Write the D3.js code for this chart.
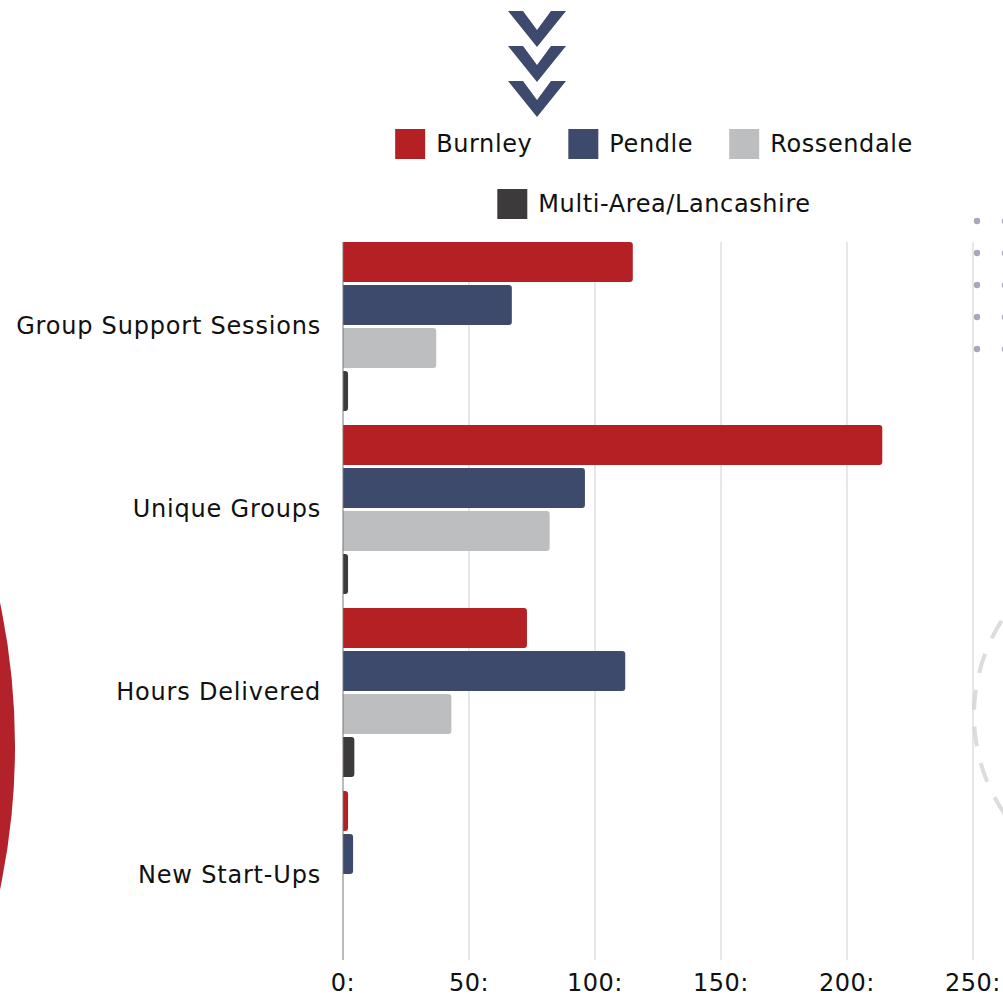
<!DOCTYPE html>
<html>
<head>
<meta charset="utf-8">
<script src="https://cdn.jsdelivr.net/npm/d3@7"></script>
<style>
  html, body { margin: 0; padding: 0; background: #fff; }
  svg { display: block; font-family: "DejaVu Sans", Verdana, sans-serif; }
</style>
</head>
<body>
<svg id="chart" width="1003" height="997"></svg>
<script>
// Activity measures by district
const categories = ["Group Support Sessions", "Unique Groups", "Hours Delivered", "New Start-Ups"];
const seriesNames = ["Burnley", "Pendle", "Rossendale", "Multi-Area/Lancashire"];
const seriesColors = ["#b52025", "#3d4a6c", "#bdbec0", "#3c3a3b"];
const burnley    = [115, 214, 73, 2];
const pendle     = [67, 96, 112, 4];
const rossendale = [37, 82, 43, 0];
const multiArea  = [2, 2, 4.5, 0];
const tickValues = [0, 50, 100, 150, 200, 250];

const seriesValues = [burnley, pendle, rossendale, multiArea];

const svg = d3.select("#chart");

// Decorative background shapes
svg.append("circle")
  .attr("cx", -679).attr("cy", 746).attr("r", 694)
  .attr("fill", "#b3222b");

svg.append("circle")
  .attr("cx", 1149).attr("cy", 715).attr("r", 175)
  .attr("fill", "none")
  .attr("stroke", "#dcdcdc")
  .attr("stroke-width", 4)
  .attr("stroke-dasharray", "20 17");

// Dot grid, top right
const dotRows = d3.range(5), dotCols = d3.range(2);
svg.append("g").selectAll("circle")
  .data(d3.cross(dotCols, dotRows))
  .join("circle")
  .attr("cx", d => 977 + d[0] * 28)
  .attr("cy", d => 221 + d[1] * 32)
  .attr("r", 3.2)
  .attr("fill", "#a4aabb");

// Chevron stack above the legend
const chevron = "M-29,0 L-14,0 L0,19 L14,0 L29,0 L0,36 Z";
svg.append("g").selectAll("path")
  .data([11, 46, 81])
  .join("path")
  .attr("d", chevron)
  .attr("transform", d => `translate(537,${d})`)
  .attr("fill", "#3e4a6d");

// Scales: band step 183, bar group 169, last group ends at the axis bottom
const x = d3.scaleLinear().domain([0, 300]).range([343, 1099]);
const y0 = d3.scaleBand().domain(categories).range([242, 242 + 3 * 183 + 169]).paddingInner(14 / 183).paddingOuter(0);
const ySub = d3.scaleBand().domain(seriesNames).range([0, y0.bandwidth()]).paddingInner(3 / 43).paddingOuter(0);

const plotTop = y0.range()[0], plotBottom = y0.range()[1];

// Gridlines
svg.append("g").selectAll("line")
  .data(tickValues.filter(d => d > 0))
  .join("line")
  .attr("x1", d => x(d)).attr("x2", d => x(d))
  .attr("y1", plotTop).attr("y2", plotBottom)
  .attr("stroke", "#cfcfcf").attr("stroke-width", 1);

// Bars with rounded right ends
function barPath(x0, x1, yTop, h, r) {
  const w = x1 - x0;
  if (w <= 0) return "";
  r = Math.min(r, w, h / 2);
  return `M${x0},${yTop} H${x1 - r} Q${x1},${yTop} ${x1},${yTop + r} V${yTop + h - r} Q${x1},${yTop + h} ${x1 - r},${yTop + h} H${x0} Z`;
}

const barData = [];
categories.forEach((c, ci) => {
  seriesNames.forEach((s, si) => {
    barData.push({ cat: c, series: s, value: seriesValues[si][ci], color: seriesColors[si] });
  });
});

svg.append("g").selectAll("path")
  .data(barData.filter(d => d.value > 0))
  .join("path")
  .attr("d", d => barPath(x(0), x(d.value), y0(d.cat) + ySub(d.series), ySub.bandwidth(), 3))
  .attr("fill", d => d.color);

// Value axis baseline
svg.append("line")
  .attr("x1", x(0)).attr("x2", x(0))
  .attr("y1", plotTop).attr("y2", plotBottom)
  .attr("stroke", "#777").attr("stroke-width", 1);

// Category labels
svg.append("g").selectAll("text")
  .data(categories)
  .join("text")
  .attr("x", 321)
  .attr("y", d => y0(d) + y0.bandwidth() / 2 + 7)
  .attr("text-anchor", "end")
  .attr("font-size", 24)
  .attr("letter-spacing", "0.8px")
  .attr("fill", "#111")
  .text(d => d);

// Tick labels
svg.append("g").selectAll("text")
  .data(tickValues)
  .join("text")
  .attr("x", d => x(d))
  .attr("y", 991)
  .attr("text-anchor", "middle")
  .attr("font-size", 24)
  .attr("letter-spacing", "0.5px")
  .attr("fill", "#111")
  .text(d => d3.format("d")(d) + ":");

// Legend, two centred rows
const legendRows = [[0, 1, 2], [3]];
const legendBaselines = [152, 212];
const legendCenter = 654, itemGap = 36, swatch = 30, swatchGap = 11;
legendRows.forEach((row, ri) => {
  const g = svg.append("g");
  const items = row.map(si => {
    const t = g.append("text")
      .attr("font-size", 24)
      .attr("letter-spacing", "0.6px")
      .attr("fill", "#111")
      .attr("y", legendBaselines[ri])
      .text(seriesNames[si]);
    return { si, t, w: t.node().getComputedTextLength() };
  });
  const total = d3.sum(items, d => swatch + swatchGap + d.w) + itemGap * (items.length - 1);
  let cx = legendCenter - total / 2;
  items.forEach(it => {
    g.append("rect")
      .attr("x", cx).attr("y", legendBaselines[ri] - 23)
      .attr("width", swatch).attr("height", swatch)
      .attr("fill", seriesColors[it.si]);
    it.t.attr("x", cx + swatch + swatchGap);
    cx += swatch + swatchGap + it.w + itemGap;
  });
});
</script>
</body>
</html>
